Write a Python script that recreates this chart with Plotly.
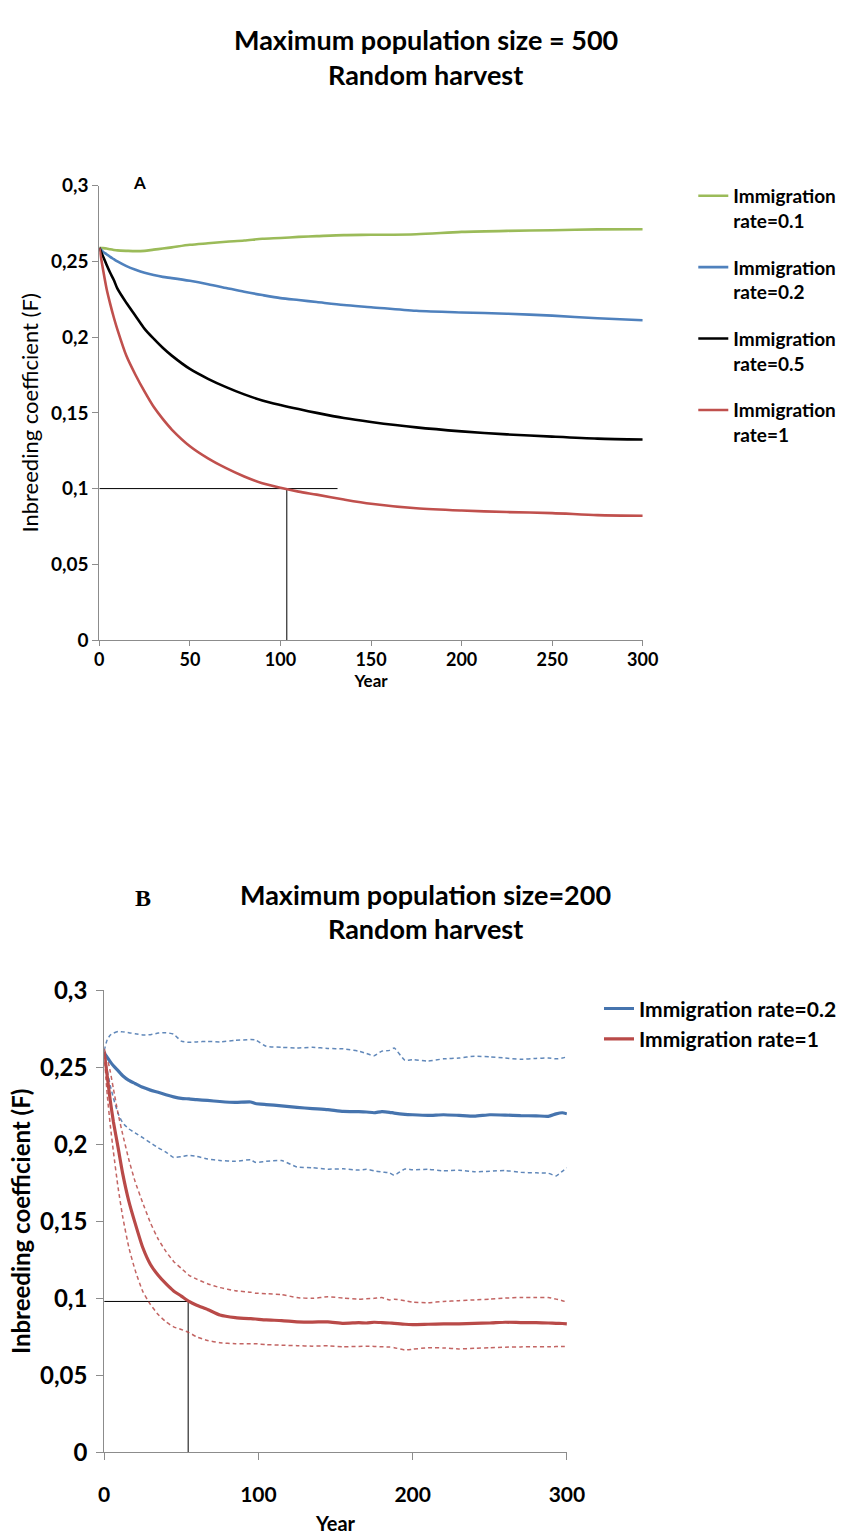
import plotly.graph_objects as go

# ---------------- Panel A: maximum population size = 500 ----------------
years_a = [0, 2, 4, 6, 8, 10, 15, 20, 25, 30, 35, 40, 50, 60, 70, 80, 90, 100,
           110, 120, 135, 150, 175, 200, 225, 250, 275, 300]
f_a_rate01 = [0.259, 0.2588, 0.2585, 0.258, 0.2576, 0.2573, 0.2570, 0.2568, 0.2570,
              0.2578, 0.2585, 0.2593, 0.2610, 0.2620, 0.2630, 0.2638, 0.2650, 0.2655,
              0.2662, 0.2667, 0.2674, 0.2676, 0.2680, 0.2695, 0.2702, 0.2706, 0.2712, 0.2713]
f_a_rate02 = [0.259, 0.2565, 0.2548, 0.253, 0.2515, 0.250, 0.2469, 0.2445, 0.2425,
              0.241, 0.2398, 0.2390, 0.2372, 0.235, 0.2325, 0.2300, 0.2278, 0.2258,
              0.2245, 0.2232, 0.2212, 0.2198, 0.2174, 0.2163, 0.2155, 0.2142, 0.2125, 0.2112]
f_a_rate05 = [0.259, 0.2535, 0.2478, 0.2425, 0.2378, 0.2320, 0.2225, 0.2140, 0.2055,
              0.1990, 0.1930, 0.1878, 0.1790, 0.1725, 0.1670, 0.1622, 0.1582, 0.1552,
              0.1525, 0.1500, 0.1466, 0.1440, 0.1404, 0.1378, 0.1358, 0.1343, 0.1330, 0.1324]
f_a_rate1 = [0.259, 0.245, 0.232, 0.222, 0.213, 0.205, 0.1875, 0.175, 0.164,
             0.154, 0.146, 0.139, 0.128, 0.120, 0.1135, 0.108, 0.1035, 0.1005,
             0.098, 0.096, 0.0928, 0.0900, 0.0870, 0.0855, 0.0845, 0.0838, 0.0825, 0.0821]

# threshold guide for panel A: F = 0.1 reached at year ~103
guide_a_F = 0.1
guide_a_year = 103.5
guide_a_hline_end = 131.5

# ---------------- Panel B: maximum population size = 200 ----------------
years_b = [0, 2, 4, 6, 9, 12, 16, 20, 25, 30, 35, 40, 45, 50, 55, 60, 67, 75, 85, 95,
           98, 105, 115, 125, 135, 145, 155, 165, 170, 175, 180, 185, 188, 195, 200,
           210, 220, 230, 240, 250, 260, 270, 280, 288, 293, 297, 300]
f_b_rate02_hi = [0.261, 0.268, 0.271, 0.2722, 0.2733, 0.273, 0.2725, 0.2718, 0.271,
                 0.2712, 0.2722, 0.2725, 0.2715, 0.267, 0.2662, 0.2665, 0.2668, 0.2665,
                 0.2675, 0.268, 0.2678, 0.2637, 0.2630, 0.2625, 0.263, 0.2622, 0.2620,
                 0.2605, 0.259, 0.2575, 0.2605, 0.261, 0.2625, 0.2545, 0.2550, 0.2541,
                 0.2555, 0.2560, 0.2572, 0.2568, 0.2560, 0.2552, 0.2558, 0.2560, 0.2555,
                 0.2560, 0.2568]
f_b_rate02 = [0.2594, 0.2565, 0.2535, 0.251, 0.2478, 0.2445, 0.2415, 0.2395, 0.237,
              0.2352, 0.2338, 0.2322, 0.2308, 0.2298, 0.2295, 0.229, 0.2285, 0.2278,
              0.2272, 0.2275, 0.2265, 0.2258, 0.2250, 0.2240, 0.2232, 0.2225, 0.2214,
              0.2212, 0.2210, 0.2205, 0.2212, 0.2208, 0.2203, 0.2195, 0.2192, 0.2188,
              0.2192, 0.2188, 0.2183, 0.2192, 0.2190, 0.2186, 0.2185, 0.2182, 0.2198,
              0.2205, 0.2198]
f_b_rate02_lo = [0.261, 0.248, 0.238, 0.230, 0.220, 0.214, 0.2100, 0.2075, 0.2043,
                 0.2010, 0.1978, 0.1950, 0.1915, 0.1920, 0.1928, 0.1922, 0.1905, 0.1895,
                 0.1890, 0.1900, 0.1883, 0.1890, 0.1895, 0.1853, 0.1848, 0.1839, 0.1841,
                 0.1833, 0.1838, 0.1828, 0.1820, 0.1815, 0.1800, 0.1840, 0.1835, 0.1838,
                 0.1828, 0.1832, 0.1822, 0.1825, 0.1830, 0.1818, 0.1815, 0.1812, 0.1795,
                 0.1825, 0.1847]
f_b_rate1_hi = [0.262, 0.256, 0.247, 0.236, 0.220, 0.2065, 0.190, 0.176, 0.162,
                0.149, 0.1385, 0.1305, 0.1240, 0.1195, 0.1150, 0.1125, 0.1095, 0.1070,
                0.1050, 0.1040, 0.1034, 0.1030, 0.1025, 0.1005, 0.1000, 0.1010, 0.1002,
                0.0995, 0.0998, 0.1000, 0.1005, 0.0990, 0.0995, 0.0985, 0.0975, 0.0972,
                0.0980, 0.0985, 0.0990, 0.0995, 0.1002, 0.1006, 0.1005, 0.1006, 0.0995,
                0.0985, 0.0976]
f_b_rate1 = [0.260, 0.244, 0.228, 0.2145, 0.1980, 0.1810, 0.163, 0.1490, 0.1330,
             0.1220, 0.1150, 0.1095, 0.1048, 0.1015, 0.0980, 0.0955, 0.0928, 0.0892,
             0.0875, 0.0868, 0.0866, 0.0860, 0.0856, 0.0848, 0.0846, 0.0848, 0.0838,
             0.0842, 0.0840, 0.0845, 0.0843, 0.0840, 0.0838, 0.0832, 0.0830, 0.0832,
             0.0834, 0.0835, 0.0838, 0.0840, 0.0845, 0.0843, 0.0842, 0.0840, 0.0838,
             0.0837, 0.0835]
f_b_rate1_lo = [0.258, 0.232, 0.212, 0.195, 0.172, 0.153, 0.133, 0.1185, 0.1045,
                0.0960, 0.0895, 0.0848, 0.0815, 0.0798, 0.0778, 0.0750, 0.0727, 0.0712,
                0.0706, 0.0706, 0.0706, 0.0700, 0.0696, 0.0693, 0.0690, 0.0692, 0.0686,
                0.0688, 0.0690, 0.0688, 0.0686, 0.0684, 0.0680, 0.0665, 0.0670, 0.0680,
                0.0678, 0.0672, 0.0676, 0.0680, 0.0683, 0.0685, 0.0686, 0.0686, 0.0687,
                0.0687, 0.0687]

# threshold guide for panel B: F ~ 0.098 reached at year ~54
guide_b_F = 0.098
guide_b_year = 54.5

y_ticks = [0, 0.05, 0.1, 0.15, 0.2, 0.25, 0.3]

FONT = "Lato, 'Open Sans', sans-serif"
GREEN, BLUE_A, RED_A = "#9BBB59", "#4F81BD", "#C0504D"
BLUE_B, RED_B = "#4674AE", "#B94A48"

fig = go.Figure()

# panel A reference lines
fig.add_trace(go.Scatter(x=[0, guide_a_hline_end], y=[guide_a_F, guide_a_F], mode="lines",
                         line=dict(color="black", width=1), showlegend=False,
                         xaxis="x", yaxis="y", hoverinfo="skip"))
fig.add_trace(go.Scatter(x=[guide_a_year, guide_a_year], y=[0, guide_a_F], mode="lines",
                         line=dict(color="black", width=1), showlegend=False,
                         xaxis="x", yaxis="y", hoverinfo="skip"))

series_a = [
    ("Immigration<br>rate=0.1", f_a_rate01, GREEN),
    ("Immigration<br>rate=0.2", f_a_rate02, BLUE_A),
    ("Immigration<br>rate=0.5", f_a_rate05, "black"),
    ("Immigration<br>rate=1", f_a_rate1, RED_A),
]
for i, (name, vals, col) in enumerate(series_a):
    fig.add_trace(go.Scatter(x=years_a, y=vals, mode="lines", name=name,
                             line=dict(color=col, width=2.6, shape="spline", smoothing=0.8),
                             legendgroup=f"a{i}", xaxis="x", yaxis="y", legend="legend"))

# panel B reference lines
fig.add_trace(go.Scatter(x=[0, guide_b_year], y=[guide_b_F, guide_b_F], mode="lines",
                         line=dict(color="black", width=1), showlegend=False,
                         xaxis="x2", yaxis="y2", hoverinfo="skip"))
fig.add_trace(go.Scatter(x=[guide_b_year, guide_b_year], y=[0, guide_b_F], mode="lines",
                         line=dict(color="#555555", width=1.5), showlegend=False,
                         xaxis="x2", yaxis="y2", hoverinfo="skip"))

for vals, col in [(f_b_rate02_hi, BLUE_B), (f_b_rate02_lo, BLUE_B),
                  (f_b_rate1_hi, RED_B), (f_b_rate1_lo, RED_B)]:
    fig.add_trace(go.Scatter(x=years_b, y=vals, mode="lines", showlegend=False,
                             line=dict(color=col, width=1.5, dash="4px,3px",
                                       shape="spline", smoothing=0.5),
                             opacity=0.85, xaxis="x2", yaxis="y2"))

fig.add_trace(go.Scatter(x=years_b, y=f_b_rate02, mode="lines", name="Immigration rate=0.2",
                         line=dict(color=BLUE_B, width=3.2, shape="spline", smoothing=0.5),
                         xaxis="x2", yaxis="y2", legend="legend2"))
fig.add_trace(go.Scatter(x=years_b, y=f_b_rate1, mode="lines", name="Immigration rate=1",
                         line=dict(color=RED_B, width=3.2, shape="spline", smoothing=0.5),
                         xaxis="x2", yaxis="y2", legend="legend2"))

W, H = 861, 1539


def px_x(p):
    return p / W


def px_y(p):
    return 1 - p / H


axis_common = dict(showgrid=False, zeroline=False, showline=True, linecolor="#8c8c8c",
                   linewidth=1, ticks="outside", tickcolor="#8c8c8c", mirror=False)

fig.update_layout(
    width=W, height=H, margin=dict(l=0, r=0, t=0, b=0),
    paper_bgcolor="white", plot_bgcolor="white",
    separators=", ",
    font=dict(family=FONT, color="black"),
    xaxis=dict(domain=[px_x(96), px_x(655)], range=[0, 300], anchor="y",
               tickvals=[0, 50, 100, 150, 200, 250, 300], ticklen=5, ticklabelstandoff=-2,
               tickfont=dict(size=18, weight=700, family=FONT),
               title=dict(text="Year", standoff=1, font=dict(size=17, weight=700, family=FONT)),
               **axis_common),
    yaxis=dict(domain=[px_y(636), px_y(173)], range=[0, 0.3], anchor="x",
               tickvals=y_ticks, ticklen=6,
               tickfont=dict(size=19, weight=700, family=FONT),
               title=dict(text="Inbreeding coefficient (F)", standoff=6,
                          font=dict(size=22, weight=400, family=FONT)),
               **axis_common),
    xaxis2=dict(domain=[px_x(101), px_x(577)], range=[0, 300], anchor="y2",
                tickvals=[0, 100, 200, 300], ticklen=7, ticklabelstandoff=16,
                tickfont=dict(size=21, weight=700, family=FONT),
                title=dict(text="Year", standoff=12, font=dict(size=20, weight=700, family=FONT)),
                **axis_common),
    yaxis2=dict(domain=[px_y(1464), px_y(993)], range=[0, 0.3], anchor="x2",
                tickvals=y_ticks, ticklen=7, ticklabelstandoff=4,
                tickfont=dict(size=24, weight=700, family=FONT),
                title=dict(text="Inbreeding coefficient (F)", standoff=2,
                           font=dict(size=24, weight=700, family=FONT)),
                **axis_common),
    legend=dict(x=px_x(707), y=px_y(164), xanchor="left", yanchor="top",
                font=dict(size=19, weight=700, family=FONT), tracegroupgap=19,
                itemwidth=30, valign="top", bgcolor="rgba(0,0,0,0)"),
    legend2=dict(x=px_x(610), y=px_y(991), xanchor="left", yanchor="top",
                 font=dict(size=21, weight=700, family=FONT), tracegroupgap=0,
                 itemwidth=30, bgcolor="rgba(0,0,0,0)"),
    showlegend=True,
)

annotations = [
    dict(text="<b>Maximum population size = 500</b>", x=px_x(432), y=px_y(24),
         font=dict(size=27)),
    dict(text="<b>Random harvest</b>", x=px_x(432), y=px_y(60), font=dict(size=27)),
    dict(text="<b>A</b>", x=px_x(137), y=px_y(170), font=dict(size=17)),
    dict(text="<b>B</b>", x=px_x(141), y=px_y(899),
         font=dict(size=24, family="'Liberation Serif', 'DejaVu Serif', serif")),
    dict(text="<b>Maximum population size=200</b>", x=px_x(432), y=px_y(895),
         font=dict(size=27)),
    dict(text="<b>Random harvest</b>", x=px_x(432), y=px_y(930), font=dict(size=27)),
]
for a in annotations:
    a.update(xref="paper", yref="paper", showarrow=False, xanchor="center", yanchor="middle")
    a["font"].setdefault("family", FONT)
    a["font"].setdefault("color", "black")
fig.update_layout(annotations=annotations)

fig.write_html("out.html")
